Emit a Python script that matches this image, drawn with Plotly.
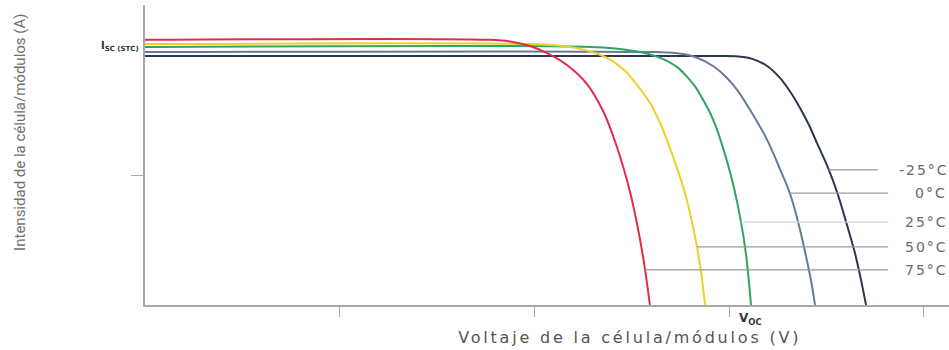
import numpy as np
import plotly.graph_objects as go

# I-V curves of a PV cell/module at several temperatures (voltage in V, current in A)
temps = ["-25°C", "0°C", "25°C", "50°C", "75°C"]

v_m25 = [0, 29.28, 30.30, 31.18, 31.95, 32.61, 33.18, 33.64, 34.10, 34.51, 35.08, 35.59, 36.05, 36.46, 36.77, 37.03]
i_m25 = [7.72, 7.72, 7.71, 7.63, 7.41, 7.04, 6.57, 6.11, 5.58, 5.02, 4.25, 3.41, 2.48, 1.61, 0.78, 0]

v_0 = [0, 26.19, 27.22, 28.25, 29.17, 29.84, 30.41, 31.07, 31.95, 32.56, 33.13, 33.54, 33.90, 34.21, 34.41]
i_0 = [7.84, 7.84, 7.81, 7.69, 7.41, 7.07, 6.67, 6.05, 5.12, 4.28, 3.44, 2.57, 1.64, 0.74, 0]

v_25 = [0, 22.86, 24.14, 25.42, 26.19, 26.81, 27.38, 27.84, 28.30, 28.66, 29.07, 29.38, 29.84, 30.25, 30.61, 30.87, 31.02, 31.12]
i_25 = [8.00, 8.00, 7.95, 7.84, 7.72, 7.57, 7.35, 7.07, 6.73, 6.36, 5.89, 5.43, 4.56, 3.63, 2.57, 1.55, 0.68, 0]

v_50 = [0, 19.77, 21.06, 22.34, 23.27, 23.99, 24.65, 25.27, 25.94, 26.60, 27.12, 27.64, 27.99, 28.35, 28.61, 28.76]
i_50 = [8.09, 8.09, 8.05, 7.94, 7.78, 7.57, 7.26, 6.82, 6.26, 5.43, 4.59, 3.66, 2.85, 1.80, 0.78, 0]

v_75 = [0, 17.72, 18.75, 19.77, 20.65, 21.67, 22.70, 23.52, 24.04, 24.50, 24.91, 25.27, 25.58, 25.78, 25.93]
i_75 = [8.22, 8.22, 8.17, 8.03, 7.81, 7.44, 6.85, 6.02, 5.24, 4.40, 3.50, 2.51, 1.49, 0.68, 0]

# current level where each temperature's leader line meets its curve
leader_i = [4.19, 3.47, 2.57, 1.80, 1.09]
leader_end_v = [37.64, 38.16, 38.16, 38.16, 38.16]

curves = [
    (v_m25, i_m25, "#2b3650"),
    (v_0, i_0, "#647a9a"),
    (v_25, i_25, "#2fa565"),
    (v_50, i_50, "#f0cf2a"),
    (v_75, i_75, "#e02c4c"),
]
leader_colors = ["#9a9a9a", "#9a9a9a", "#d6d6d6", "#9a9a9a", "#9a9a9a"]

fig = go.Figure()
for (v, i, col), name in zip(curves, temps):
    fig.add_trace(go.Scatter(
        x=v, y=i, mode="lines", name=name,
        line=dict(color=col, width=2, shape="spline", smoothing=1.0),
        hoverinfo="skip",
    ))

# leader lines from each curve to its temperature label
for (v, i, _), yi, ve, lc, name in zip(curves, leader_i, leader_end_v, leader_colors, temps):
    x0 = float(np.interp(yi, i[::-1], v[::-1]))
    fig.add_shape(type="line", xref="x", yref="y", x0=x0, x1=ve, y0=yi, y1=yi,
                  line=dict(color=lc, width=1.2))
    fig.add_annotation(x=1.0, xref="paper", xanchor="right", xshift=-3, y=yi, yref="y",
                       text=name, showarrow=False,
                       font=dict(family="DejaVu Sans", size=14, color="#6a6a6a"))

# Isc (STC) marker on the current axis and Voc marker on the voltage axis
fig.add_annotation(x=0, xref="x", xanchor="right", xshift=-4, y=i_25[0], yref="y",
                   text="<b>I<sub>SC (STC)</sub></b>", showarrow=False,
                   font=dict(family="DejaVu Sans", size=10, color="#333"))
fig.add_annotation(x=v_25[-1], xref="x", y=0, yref="y", yanchor="top", yshift=-4,
                   text="<b>V<sub>OC</sub></b>", showarrow=False,
                   font=dict(family="DejaVu Sans", size=12, color="#333"))

# axis titles
fig.add_annotation(x=-0.1555, xref="paper", y=0.577, yref="paper",
                   text="Intensidad de la célula/módulos (A)", textangle=-90,
                   showarrow=False, xanchor="center", yanchor="middle",
                   font=dict(family="Liberation Sans Narrow, Roboto, Liberation Sans", size=15, color="#707070"))
fig.add_annotation(x=0.603, xref="paper", y=-0.107, yref="paper",
                   text="Voltaje de la célula/módulos (V)",
                   showarrow=False, xanchor="center", yanchor="middle",
                   font=dict(family="DejaVu Sans", size=16, color="#555"))

fig.update_layout(
    width=949, height=350,
    margin=dict(l=145, r=0, t=5, b=45),
    paper_bgcolor="white", plot_bgcolor="white",
    showlegend=False,
    xaxis=dict(range=[0, 41.29], showgrid=False, zeroline=False,
               showline=True, linecolor="#a8a8a8", linewidth=1.5,
               tickvals=[10, 20, 30, 40], ticks="outside", ticklen=10,
               tickcolor="#aaaaaa", showticklabels=False),
    yaxis=dict(range=[0, 9.30], showgrid=False, zeroline=False,
               showline=True, linecolor="#a8a8a8", linewidth=1.5,
               tickvals=[4], ticks="outside", ticklen=12,
               tickcolor="#aaaaaa", showticklabels=False),
)

# widen the letter spacing of the voltage title and temperature labels
spacing_js = """
var gd = document.getElementById('{plot_id}');
function spaceLabels() {
  gd.querySelectorAll('text.annotation-text').forEach(function (t) {
    var s = t.textContent;
    if (s.indexOf('\u00b0C') >= 0) { t.style.letterSpacing = '2px'; }
    else if (s.indexOf('Voltaje') === 0) { t.style.letterSpacing = '2.8px'; }
  });
}
spaceLabels();
gd.on('plotly_afterplot', spaceLabels);
"""

fig.write_html("out.html", post_script=spacing_js)
